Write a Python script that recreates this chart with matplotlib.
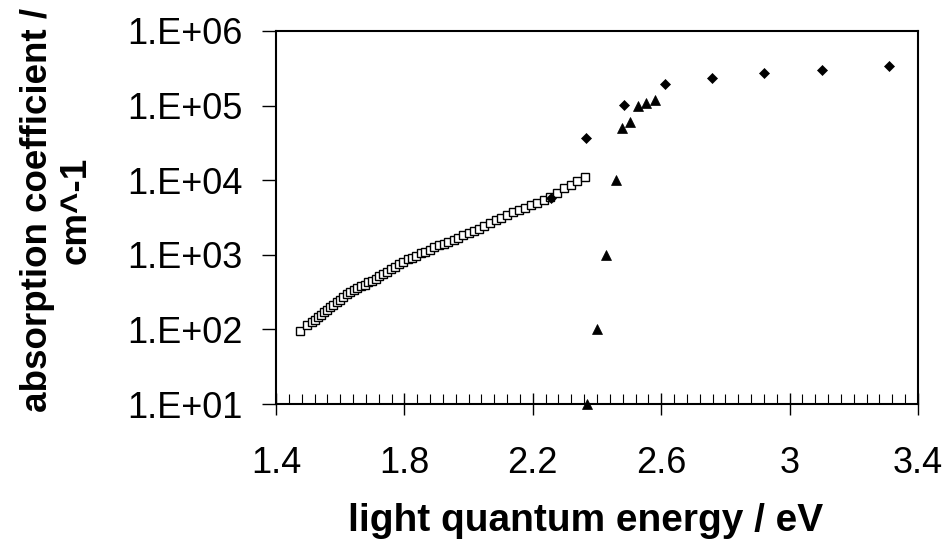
import matplotlib
matplotlib.use("Agg")
import matplotlib.pyplot as plt
from matplotlib.ticker import FixedLocator, MultipleLocator, NullLocator

plt.rcParams['font.family'] = ['Liberation Sans', 'DejaVu Sans']

# open squares
sq_x = [1.476, 1.497, 1.512, 1.521, 1.531, 1.540, 1.550, 1.560, 1.569, 1.579,
        1.590, 1.600, 1.610, 1.621, 1.631, 1.642, 1.653, 1.664, 1.676, 1.687,
        1.699, 1.710, 1.722, 1.734, 1.746, 1.759, 1.771, 1.784, 1.797, 1.810,
        1.823, 1.837, 1.851, 1.864, 1.879, 1.893, 1.908, 1.922, 1.937, 1.953,
        1.968, 1.984, 2.000, 2.016, 2.033, 2.049, 2.066, 2.084, 2.102, 2.119,
        2.138, 2.157, 2.175, 2.195, 2.214, 2.234, 2.254, 2.275, 2.296, 2.318,
        2.339, 2.362]
sq_y = [95, 115, 126, 132, 145, 155, 170, 182, 200, 214,
        234, 251, 269, 295, 316, 339, 355, 380, 398, 427,
        447, 479, 513, 550, 589, 646, 692, 759, 813, 871,
        912, 977, 1047, 1096, 1175, 1259, 1349, 1413, 1479, 1585,
        1698, 1820, 1950, 2089, 2239, 2399, 2630, 2884, 3162, 3388,
        3715, 3981, 4266, 4677, 5012, 5495, 6026, 6761, 7762, 8710,
        9772, 10965]

# filled diamonds
dia_x = [2.256, 2.365, 2.484, 2.612, 2.757, 2.921, 3.102, 3.310]
dia_y = [5800, 37000, 101000, 193000, 237000, 271000, 300000, 343000]

# filled triangles
tri_x = [2.368, 2.400, 2.429, 2.458, 2.477, 2.502, 2.527, 2.553, 2.580]
tri_y = [10, 100, 1000, 10000, 50000, 60000, 100000, 110000, 118000]

x_ticks = [1.4, 1.8, 2.2, 2.6, 3.0, 3.4]
x_tick_labels = ['1.4', '1.8', '2.2', '2.6', '3', '3.4']
y_ticks = [1e1, 1e2, 1e3, 1e4, 1e5, 1e6]
y_tick_labels = ['1.E+01', '1.E+02', '1.E+03', '1.E+04', '1.E+05', '1.E+06']

fig = plt.figure(figsize=(9.49, 5.47), dpi=100)
ax = fig.add_axes([276/949, 1-404/547, (918-276)/949, (404-31)/547])

ax.plot(sq_x, sq_y, linestyle='none', marker='s', ms=5.8, mfc='white',
        mec='black', mew=1.0, zorder=3)
ax.plot(tri_x, tri_y, linestyle='none', marker='^', ms=7, mfc='black',
        mec='black', mew=0.5, zorder=4, clip_on=False)
ax.plot(dia_x, dia_y, linestyle='none', marker='D', ms=5.5, mfc='black',
        mec='black', mew=0.5, zorder=5)

ax.set_yscale('log')
ax.set_xlim(1.4, 3.4)
ax.set_ylim(10, 1e6)

ax.xaxis.set_major_locator(FixedLocator(x_ticks))
ax.set_xticklabels(x_tick_labels)
ax.xaxis.set_minor_locator(MultipleLocator(0.04))
ax.yaxis.set_major_locator(FixedLocator(y_ticks))
ax.set_yticklabels(y_tick_labels)
ax.yaxis.set_minor_locator(NullLocator())

ax.tick_params(axis='x', which='major', direction='inout', length=16, width=1.0,
               labelsize=26, pad=22, top=False)
ax.tick_params(axis='x', which='minor', direction='in', length=7, width=0.8, top=False)
ax.tick_params(axis='y', which='major', direction='out', length=10, width=1.0,
               labelsize=26, pad=14, right=False)

for s in ax.spines.values():
    s.set_linewidth(1.5)
    s.set_color('black')

fig.text(586/949, 1-521/547, 'light quantum energy / eV', fontsize=28,
         fontweight='bold', ha='center', va='center')
fig.text(57/949, 1-210/547, 'absorption coefficient /\ncm^-1', fontsize=26.5,
         fontweight='bold', ha='center', va='center', rotation=90,
         linespacing=1.15, multialignment='center')

fig.savefig('out.png', dpi=100)
